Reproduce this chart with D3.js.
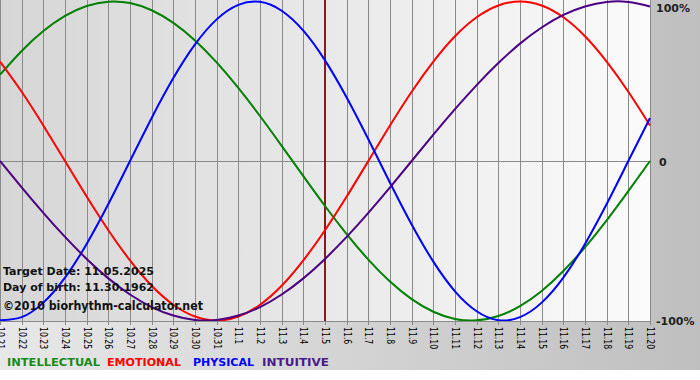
<!DOCTYPE html>
<html><head><meta charset="utf-8">
<script src="https://cdn.jsdelivr.net/npm/d3@7"></script>
<style>html,body{margin:0;padding:0;background:#fff;}svg{display:block;}</style>
</head><body>
<svg id="c" width="700" height="380"></svg>
<script>
const dates = ["10.21","10.22","10.23","10.24","10.25","10.26","10.27","10.28","10.29","10.30","10.31",
  "11.1","11.2","11.3","11.4","11.5","11.6","11.7","11.8","11.9","11.10","11.11","11.12","11.13","11.14",
  "11.15","11.16","11.17","11.18","11.19","11.20"];
const physical = [-0.998,-0.979,-0.888,-0.731,-0.520,-0.270,0,0.270,0.520,0.731,0.888,0.979,0.998,0.942,0.817,0.631,0.398,0.136,-0.136,-0.398,-0.631,-0.817,-0.942,-0.998,-0.979,-0.888,-0.731,-0.520,-0.270,0,0.270];
const emotional = [0.623,0.434,0.223,0,-0.223,-0.434,-0.623,-0.782,-0.901,-0.975,-1,-0.975,-0.901,-0.782,-0.623,-0.434,-0.223,0,0.223,0.434,0.623,0.782,0.901,0.975,1,0.975,0.901,0.782,0.623,0.434,0.223];
const intellectual = [0.541,0.690,0.815,0.910,0.972,0.999,0.990,0.945,0.866,0.756,0.618,0.458,0.282,0.095,-0.095,-0.282,-0.458,-0.618,-0.756,-0.866,-0.945,-0.990,-0.999,-0.972,-0.910,-0.815,-0.690,-0.541,-0.372,-0.189,0];
const intuitive = [0,-0.165,-0.325,-0.476,-0.614,-0.736,-0.837,-0.916,-0.969,-0.997,-0.997,-0.969,-0.916,-0.837,-0.736,-0.614,-0.476,-0.325,-0.165,0,0.165,0.325,0.476,0.614,0.736,0.837,0.916,0.969,0.997,0.997,0.969];
const yTicks = [{v:1,t:"100%"},{v:0,t:"0"},{v:-1,t:"-100%"}];
const targetIndex = 15;
const infoLines = ["Target Date: 11.05.2025","Day of birth: 11.30.1962","©2010 biorhythm-calculator.net"];
const series = [
  {name:"INTELLECTUAL", values:intellectual, color:"#008000", lcolor:"#1a8a1a"},
  {name:"EMOTIONAL", values:emotional, color:"#ff0000", lcolor:"#ff0000"},
  {name:"PHYSICAL", values:physical, color:"#0000ff", lcolor:"#0000ff"},
  {name:"INTUITIVE", values:intuitive, color:"#4b0082", lcolor:"#4b1a8a"}
];

const svg = d3.select("#c");
const W = 700, H = 380;
const x = d3.scaleLinear().domain([0, dates.length-1]).range([0, 650]);
const y = d3.scaleLinear().domain([-1, 1]).range([320.5, 1.5]);

const defs = svg.append("defs");
const g1 = defs.append("linearGradient").attr("id","outer").attr("x1","0").attr("x2","1").attr("y1","0").attr("y2","0");
g1.append("stop").attr("offset","0").attr("stop-color","#e8e8e8");
g1.append("stop").attr("offset","1").attr("stop-color","#bfbfbf");
const g2 = defs.append("linearGradient").attr("id","plot").attr("x1","0").attr("x2","1").attr("y1","0").attr("y2","0");
g2.append("stop").attr("offset","0").attr("stop-color","#d6d6d6");
g2.append("stop").attr("offset","1").attr("stop-color","#fbfbfb");
defs.append("clipPath").attr("id","clip").append("rect").attr("x",0).attr("y",0).attr("width",651).attr("height",321);

svg.append("rect").attr("x",0).attr("y",0).attr("width",W).attr("height",370).attr("fill","url(#outer)");
svg.append("rect").attr("x",0).attr("y",0).attr("width",651).attr("height",321).attr("fill","url(#plot)");

// vertical grid + ticks
svg.append("g").selectAll("line").data(dates).join("line")
  .attr("x1",(d,i)=>Math.round(x(i))+0.5).attr("x2",(d,i)=>Math.round(x(i))+0.5)
  .attr("y1",0).attr("y2",325).attr("stroke","#8a8a8a").attr("stroke-width",1);
// horizontal lines
svg.append("line").attr("x1",0).attr("x2",651).attr("y1",Math.round(y(0))+0.5).attr("y2",Math.round(y(0))+0.5).attr("stroke","#8a8a8a");
svg.append("line").attr("x1",0).attr("x2",651).attr("y1",321.5).attr("y2",321.5).attr("stroke","#8a8a8a");

// x labels
const labW = d => d.replace(".","").length*4.9 + 2.6;
svg.append("g").selectAll("text").data(dates).join("text")
  .attr("transform",(d,i)=>`translate(${Math.round(x(i))+0.5},327) rotate(90)`)
  .attr("dy","0.36em").attr("text-anchor","start")
  .attr("font-family","DejaVu Sans, Verdana, sans-serif").attr("font-size",11)
  .attr("textLength",labW).attr("lengthAdjust","spacingAndGlyphs")
  .attr("fill","#000").text(d=>d);

// target line
svg.append("line").attr("x1",Math.round(x(targetIndex))).attr("x2",Math.round(x(targetIndex)))
  .attr("y1",0).attr("y2",321).attr("stroke","#8b1a1a").attr("stroke-width",2);

// curves
const line = d3.line().x((d,i)=>x(i)).y(d=>y(d)).curve(d3.curveNatural);
const cg = svg.append("g").attr("clip-path","url(#clip)");
series.forEach(s=>{
  cg.append("path").attr("d",line(s.values)).attr("fill","none").attr("stroke",s.color).attr("stroke-width",2);
});

// y labels
svg.append("g").selectAll("text").data(yTicks).join("text")
  .attr("x",d=>d.v===0?659:656).attr("y",d=>Math.max(8, y(d.v)+1)).attr("dy","0.35em")
  .attr("font-family","DejaVu Sans, Verdana, sans-serif").attr("font-weight","bold").attr("font-size",11)
  .attr("fill","#222").text(d=>d.t);

// info text
const infoY = [275, 290.5, 310];
const infoW = [151, 151, 200];
svg.append("g").selectAll("text").data(infoLines).join("text")
  .attr("x",3).attr("y",(d,i)=>infoY[i])
  .attr("font-family","DejaVu Sans, Verdana, sans-serif").attr("font-weight","bold")
  .attr("font-size",(d,i)=>i===2?12:11).attr("fill","#111")
  .attr("textLength",(d,i)=>infoW[i]).attr("lengthAdjust","spacingAndGlyphs").text(d=>d);

// legend
const legX = [7,107,193,262];
const legW = [93,74,61,67];
svg.append("g").selectAll("text").data(series).join("text")
  .attr("x",(d,i)=>legX[i]).attr("y",366)
  .attr("font-family","DejaVu Sans, Verdana, sans-serif").attr("font-weight","bold").attr("font-size",11)
  .attr("fill",d=>d.lcolor).attr("textLength",(d,i)=>legW[i]).attr("lengthAdjust","spacingAndGlyphs").text(d=>d.name);
</script>
</body></html>
